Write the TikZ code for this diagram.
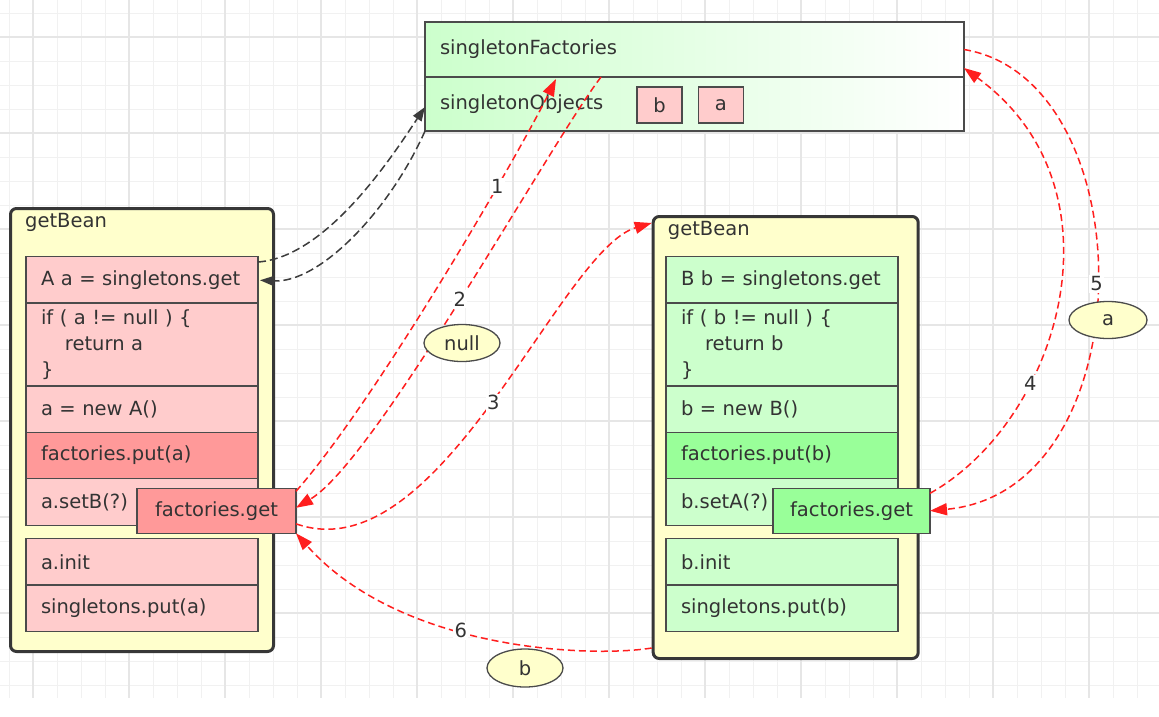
\documentclass[tikz,border=0pt]{standalone}
\usepackage{fontspec}
\setmainfont{DejaVu Sans}
\usepackage{tikz}
\usetikzlibrary{arrows.meta,positioning,calc,shapes.geometric}
\definecolor{gridMinor} {RGB}{241,241,241}
\definecolor{gridMajor} {RGB}{230,230,230}
\definecolor{beanFill}  {RGB}{255,255,204}
\definecolor{beanLine}  {RGB}{55,55,55}
\definecolor{cellLine}  {RGB}{75,75,75}
\definecolor{redRow}    {RGB}{255,204,204}
\definecolor{redDeep}   {RGB}{255,153,153}
\definecolor{greenRow}  {RGB}{204,255,204}
\definecolor{greenDeep} {RGB}{153,255,153}
\definecolor{textGrey}  {RGB}{51,51,51}
\definecolor{edgeRed}   {RGB}{255,30,30}
\definecolor{edgeDark}  {RGB}{60,60,60}

\begin{document}
\begin{tikzpicture}[
  x=1pt,y=-1pt,node distance=0pt,
  font=\fontsize{19.5}{26}\selectfont,
  bean/.style={draw=beanLine,line width=3pt,rounded corners=6pt,fill=beanFill,
               minimum width=263pt,minimum height=443pt,anchor=north west},
  title/.style={anchor=west,text=textGrey,inner sep=0pt},
  cellA/.style={draw=cellLine,line width=1.3pt,fill=redRow,text=textGrey,
                minimum height=46.5pt,text width=202pt,inner xsep=15pt,
                align=left,outer sep=0pt},
  cellB/.style={cellA,fill=greenRow},
  fget/.style={draw=cellLine,line width=1.3pt,minimum height=45pt,
               text=textGrey,outer sep=0pt},
  store/.style={draw=cellLine,line width=1.3pt,left color=green!20,right color=white,
                minimum width=539pt,text width=509pt,inner xsep=15pt,
                align=left,text=textGrey,outer sep=0pt},
  tag/.style={draw=cellLine,line width=1.3pt,fill=redRow,text=textGrey,
              minimum width=45pt,minimum height=36pt,inner sep=0pt},
  val/.style={ellipse,draw=cellLine,line width=1.3pt,fill=beanFill,text=textGrey,
              minimum width=76pt,minimum height=37pt,inner sep=0pt},
  num/.style={fill=white,text=textGrey,inner sep=1.5pt},
  redflow/.style={-{Triangle[length=17pt,width=12pt]},draw=edgeRed,
                  line width=1.5pt,dash pattern=on 7pt off 4pt},
  getflow/.style={-{Triangle[length=14pt,width=10pt]},draw=edgeDark,
                  line width=1.5pt,dash pattern=on 8pt off 4pt},
]
\useasboundingbox (0,0) rectangle (1159,716);
% background grid
\foreach \gx in {9,33,...,1137} \draw[gridMinor,line width=1pt] (\gx,0) -- (\gx,698);
\foreach \gy in {13,37,...,685} \draw[gridMinor,line width=1pt] (0,\gy) -- (1159,\gy);
\foreach \gx in {33,129,...,1089} \draw[gridMajor,line width=1.2pt] (\gx,0) -- (\gx,698);
\foreach \gy in {37,133,...,613} \draw[gridMajor,line width=1.2pt] (0,\gy) -- (1159,\gy);

% getBean for A
\node[bean] (beanA) at (9,207) {};
\node[title] (titleA) at ([xshift=16pt,yshift=-15pt]beanA.north west) {getBean};
\node[cellA,anchor=north west] (rA1) at (26,256.5) {A a = singletons.get};
\node[cellA,below=of rA1,minimum height=83pt] (rA2)
  {if ( a != null ) \{\\\hspace*{24pt}return a\\\}};
\node[cellA,below=of rA2] (rA3) {a = new A()};
\node[cellA,below=of rA3,fill=redDeep,minimum height=46pt] (rA4) {factories.put(a)};
\node[cellA,below=of rA4,minimum height=47pt] (rA5) {a.setB(?)};
\node[cellA,below=13pt of rA5] (rA6) {a.init};
\node[cellA,below=of rA6] (rA7) {singletons.put(a)};
\node[fget,fill=redDeep,minimum width=159pt] (fgA) at (216.5,510.8) {factories.get};

% getBean for B
\node[bean,minimum width=265pt,minimum height=442pt] (beanB) at (651.7,215) {};
\node[title] (titleB) at ([xshift=16pt,yshift=-15pt]beanB.north west) {getBean};
\node[cellB,anchor=north west] (rB1) at (666,256.5) {B b = singletons.get};
\node[cellB,below=of rB1,minimum height=83pt] (rB2)
  {if ( b != null ) \{\\\hspace*{24pt}return b\\\}};
\node[cellB,below=of rB2] (rB3) {b = new B()};
\node[cellB,below=of rB3,fill=greenDeep,minimum height=46pt] (rB4) {factories.put(b)};
\node[cellB,below=of rB4,minimum height=47pt] (rB5) {b.setA(?)};
\node[cellB,below=13pt of rB5] (rB6) {b.init};
\node[cellB,below=of rB6] (rB7) {singletons.put(b)};
\node[fget,fill=greenDeep,minimum width=157pt] (fgB) at (851.5,510.8) {factories.get};

% caches
\node[store,anchor=north west,minimum height=55pt] (sf) at (425,22) {singletonFactories};
\node[store,below=of sf,minimum height=54pt] (so) {singletonObjects};
\node[tag] (tagB) at (659.5,105) {b};
\node[tag,right=15pt of tagB] (tagA) {a};

% singletons.get lookups
\draw[getflow] ($(rA1.north east)+(0,5.5)$) .. controls +(70,-5) and +(-30,45) .. ($(so.west)+(0,3)$);
\draw[getflow] (so.south west) .. controls +(-35,79) and +(60,3) .. ($(rA1.east)+(2,0.5)$);

% factory calls
\draw[redflow] ($(fgA.north east)+(0,3)$) .. controls +(80,-91) and +(-40,80) ..
  node[num,pos=0.7] {1} ($(sf.south west)+(131,2)$);
\draw[redflow] ($(sf.south west)+(176,0)$) .. controls +(-50,65) and +(80,-48) ..
  node[num,pos=0.5] {2} ($(fgA.east)+(0,-3)$);
\draw[redflow] ($(fgA.east)+(0,13)$) .. controls +(144,51) and +(-92,27) ..
  node[num,pos=0.5] {3} ($(beanB.north west)+(0,8)$);
\draw[redflow] ($(fgB.north east)+(0,5)$) .. controls +(130,-73) and +(165,120) ..
  node[num,pos=0.32] {4} ($(sf.south east)+(0,-9)$);
\draw[redflow] (sf.east) .. controls +(182,30) and +(217,-20) ..
  node[num,pos=0.5] {5} (fgB.east);
\draw[redflow] ($(beanB.south west)+(0,-12)$) .. controls +(-62,10) and +(104,117) ..
  node[num,pos=0.57] {6} (fgA.south east);

% returned values
\node[val] (vNull) at (462,343) {null};
\node[val,minimum width=78pt] (vA) at (1108,320) {a};
\node[val,minimum height=38pt] (vB) at (525,668) {b};
\end{tikzpicture}
\end{document}
